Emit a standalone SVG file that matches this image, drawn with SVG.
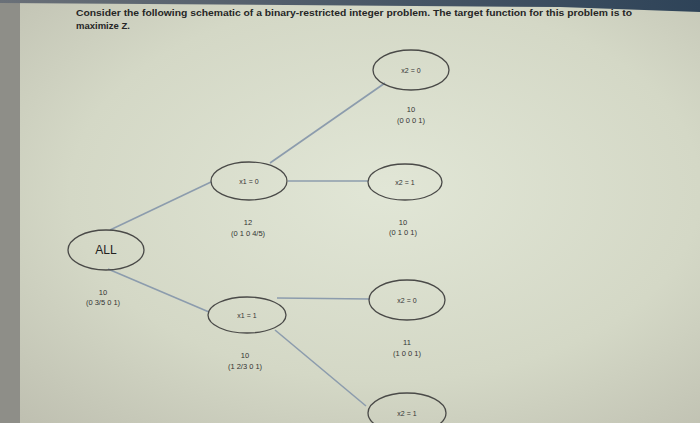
<svg xmlns="http://www.w3.org/2000/svg" width="700" height="423" viewBox="0 0 700 423">
<defs>
<radialGradient id="bg" cx="0.55" cy="0.45" r="0.75">
<stop offset="0" stop-color="#e1e6d6"/>
<stop offset="0.6" stop-color="#d4d8c6"/>
<stop offset="1" stop-color="#bfc0b1"/>
</radialGradient>
<linearGradient id="top" x1="0" y1="0" x2="1" y2="0">
<stop offset="0" stop-color="#6a7078"/>
<stop offset="1" stop-color="#2e4358"/>
</linearGradient>
<style>
.node ellipse{fill:none;stroke:#4a4a48;stroke-width:1.3}
.nt{font-family:"Liberation Sans",Arial,sans-serif;font-size:7px;fill:#333;text-anchor:middle}
.lb{font-family:"Liberation Sans",Arial,sans-serif;font-size:7.5px;fill:#333;text-anchor:middle}
.edge line{stroke:#8c9cad;stroke-width:1.6}
.title{font-family:"Liberation Sans",Arial,sans-serif;font-size:9.5px;font-weight:bold;fill:#262626}
</style>
</defs>
<rect width="700" height="423" fill="url(#bg)"/>
<rect x="0" y="0" width="20" height="423" fill="#8e8e88"/>
<polygon points="0,0 700,0 700,12 560,7 0,3" fill="url(#top)"/>
<text class="title" x="76" y="16" textLength="556" lengthAdjust="spacingAndGlyphs">Consider the following schematic of a binary-restricted integer problem. The target function for this problem is to</text>
<text class="title" x="76" y="29">maximize Z.</text>
<g id="connectors" class="edge">
<line x1="110" y1="230" x2="211" y2="182"/>
<line x1="108" y1="269" x2="209" y2="312"/>
<line x1="270" y1="163" x2="385" y2="83"/>
<line x1="288" y1="181" x2="368" y2="181"/>
<line x1="277" y1="298" x2="370" y2="299"/>
<line x1="275" y1="330" x2="366" y2="406"/>
</g>
<g id="node-all" class="node">
<ellipse cx="106" cy="250" rx="38" ry="20"/>
<text x="106" y="254" class="nt" style="font-size:12px;fill:#222">ALL</text>
<text x="103" y="295" class="lb">10</text>
<text x="103" y="305" class="lb">(0  3/5  0  1)</text>
</g>
<g id="node-x1-0" class="node">
<ellipse cx="249" cy="181" rx="38" ry="19"/>
<text x="249" y="184" class="nt">x1 = 0</text>
<text x="248" y="225" class="lb">12</text>
<text x="248" y="236" class="lb">(0 1 0 4/5)</text>
</g>
<g id="node-x1-1" class="node">
<ellipse cx="247" cy="315" rx="39" ry="18"/>
<text x="247" y="318" class="nt">x1 = 1</text>
<text x="245" y="358" class="lb">10</text>
<text x="245" y="369" class="lb">(1  2/3  0 1)</text>
</g>
<g id="node-x2-0-top" class="node">
<ellipse cx="411" cy="70" rx="38" ry="20"/>
<text x="411" y="73" class="nt">x2 = 0</text>
<text x="411" y="112" class="lb">10</text>
<text x="411" y="123" class="lb">(0 0 0 1)</text>
</g>
<g id="node-x2-1-mid" class="node">
<ellipse cx="405" cy="182" rx="37" ry="18"/>
<text x="405" y="185" class="nt">x2 = 1</text>
<text x="403" y="225" class="lb">10</text>
<text x="403" y="235" class="lb">(0 1 0 1)</text>
</g>
<g id="node-x2-0-low" class="node">
<ellipse cx="407" cy="300" rx="38" ry="20"/>
<text x="407" y="303" class="nt">x2 = 0</text>
<text x="407" y="345" class="lb">11</text>
<text x="407" y="356" class="lb">(1 0 0 1)</text>
</g>
<g id="node-x2-1-bottom" class="node">
<ellipse cx="407" cy="413" rx="39" ry="20"/>
<text x="407" y="416" class="nt">x2 = 1</text>
</g>
</svg>
